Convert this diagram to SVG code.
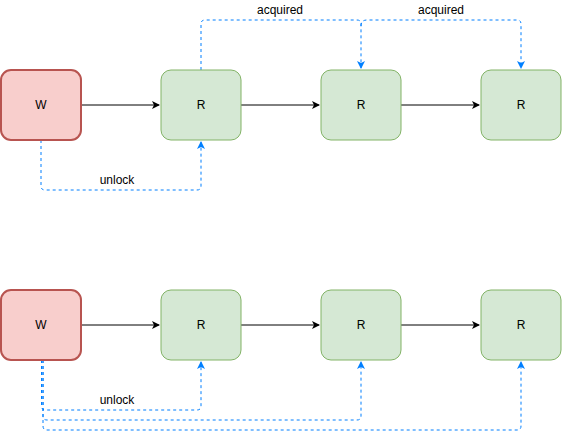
<svg xmlns="http://www.w3.org/2000/svg" width="562" height="439" viewBox="0 0 562 439">
<style>
.w{fill:#f8cecc;stroke:#b85450;stroke-width:2}
.r{fill:#d5e8d4;stroke:#82b366;stroke-width:1}
.t{font-family:"Liberation Sans",Arial,sans-serif;font-size:12px;fill:#000;text-anchor:middle}
.e{fill:none;stroke:#000;stroke-width:1}
.d{fill:none;stroke:#007fff;stroke-width:1;stroke-dasharray:3 3}
</style>
<defs>
<marker id="ab" markerWidth="10" markerHeight="10" refX="7" refY="4" orient="auto" markerUnits="userSpaceOnUse"><path d="M0,0 L8,4 L0,8 L2,4 Z" fill="#000"/></marker>
<marker id="ax" markerWidth="10" markerHeight="10" refX="7" refY="4" orient="auto" markerUnits="userSpaceOnUse"><path d="M0,0 L8,4 L0,8 L2,4 Z" fill="#007fff"/></marker>
</defs>
<g id="connectors">
<path class="e" d="M81,105 H159" marker-end="url(#ab)"/>
<path class="e" d="M241,105 H319" marker-end="url(#ab)"/>
<path class="e" d="M401,105 H479" marker-end="url(#ab)"/>
<path class="d" d="M41,140 V186 Q41,190 45,190 H197 Q201,190 201,186 V142" marker-end="url(#ax)"/>
<path class="d" d="M201,70 V24 Q201,20 205,20 H357 Q361,20 361,24 V68" marker-end="url(#ax)"/>
<path class="d" d="M361,26 Q361,20 367,20 H517 Q521,20 521,24 V68" marker-end="url(#ax)"/>
<path class="e" d="M81,325 H159" marker-end="url(#ab)"/>
<path class="e" d="M241,325 H319" marker-end="url(#ab)"/>
<path class="e" d="M401,325 H479" marker-end="url(#ab)"/>
<path class="d" d="M41.5,360 V406 Q41.5,410 45.5,410 H197 Q201,410 201,406 V362" marker-end="url(#ax)"/>
<path class="d" d="M43,360 V416 Q43,420 47,420 H357 Q361,420 361,416 V362" marker-end="url(#ax)"/>
<path class="d" d="M43,360 V426 Q43,430 47,430 H517 Q521,430 521,426 V362" marker-end="url(#ax)"/>
<text class="t" x="117" y="184">unlock</text>
<text class="t" x="280" y="14">acquired</text>
<text class="t" x="441" y="14">acquired</text>
<text class="t" x="117" y="404">unlock</text>
</g>
<g id="w1"><rect class="w" x="1" y="70" width="80" height="70" rx="10"/><text class="t" x="41" y="109">W</text></g>
<g id="r1"><rect class="r" x="161" y="70" width="80" height="70" rx="10"/><text class="t" x="201" y="109">R</text></g>
<g id="r2"><rect class="r" x="321" y="70" width="80" height="70" rx="10"/><text class="t" x="361" y="109">R</text></g>
<g id="r3"><rect class="r" x="481" y="70" width="80" height="70" rx="10"/><text class="t" x="521" y="109">R</text></g>
<g id="w2"><rect class="w" x="1" y="290" width="80" height="70" rx="10"/><text class="t" x="41" y="329">W</text></g>
<g id="r4"><rect class="r" x="161" y="290" width="80" height="70" rx="10"/><text class="t" x="201" y="329">R</text></g>
<g id="r5"><rect class="r" x="321" y="290" width="80" height="70" rx="10"/><text class="t" x="361" y="329">R</text></g>
<g id="r6"><rect class="r" x="481" y="290" width="80" height="70" rx="10"/><text class="t" x="521" y="329">R</text></g>
</svg>
